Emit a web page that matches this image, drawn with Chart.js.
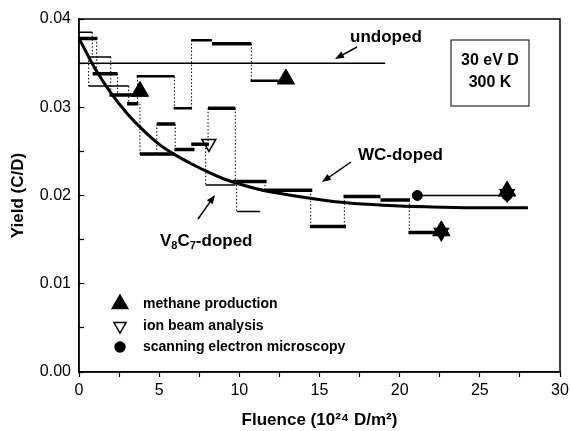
<!DOCTYPE html>
<html>
<head>
<meta charset="utf-8">
<script src="https://cdn.jsdelivr.net/npm/chart.js@4.4.0/dist/chart.umd.min.js"></script>
<style>
  html, body { margin: 0; padding: 0; background: #fff; }
</style>
</head>
<body>
<canvas id="yieldChart" width="571" height="431"></canvas>
<script>
// undoped reference level
var undopedX = [0, 19.1];
var undopedY = [0.0350, 0.0350];

// fitted curve
var fitX = [0, 1, 2, 3, 4, 5, 6, 7, 8, 9, 10, 11, 12, 14, 16, 18, 20, 22, 25, 28];
var fitY = [0.0378, 0.0344, 0.0316, 0.0293, 0.0274, 0.0258, 0.0246, 0.0236, 0.0227, 0.0219,
            0.0213, 0.0208, 0.0204, 0.0198, 0.0193, 0.0190, 0.0188, 0.0187, 0.0186, 0.0186];

// thick step segments
var thickX0 = [0, 0.85, 1.9, 3.0, 8.3, 4.85, 3.8, 5.95, 7.0, 8.05, 9.6, 11.55, 14.4, 16.5, 18.8, 20.55];
var thickX1 = [1.15, 2.4, 3.45, 3.7, 10.75, 6.0, 5.95, 7.2, 8.1, 9.75, 11.7, 14.55, 16.65, 18.8, 20.65, 22.45];
var thickY  = [0.0378, 0.0338, 0.0314, 0.0304, 0.0372, 0.0281, 0.0247, 0.0252, 0.0258, 0.0299,
               0.0216, 0.0206, 0.0165, 0.0199, 0.0195, 0.0158];

// medium step segments
var midX0 = [3.6, 5.9, 7.0, 10.7];
var midX1 = [5.95, 7.05, 8.3, 12.45];
var midY  = [0.0335, 0.0299, 0.0376, 0.0330];

// thin step segments
var thinX0 = [0, 0.55, 0.6, 7.9, 9.85, 21.1];
var thinX1 = [0.83, 2.0, 3.1, 9.75, 11.3, 26.7];
var thinY  = [0.0385, 0.0357, 0.0324, 0.0212, 0.0182, 0.0200];

// dotted connectors
var dotX  = [0.83, 1.1, 0.6, 1.98, 2.4, 3.1, 3.65, 3.8, 4.85, 5.95, 6.0, 7.02, 7.15, 8.05, 7.9, 9.75, 9.83, 10.75, 11.6, 14.45, 16.55, 20.6];
var dotY0 = [0.0385, 0.0378, 0.0357, 0.0357, 0.0338, 0.0324, 0.0335, 0.0304, 0.0281, 0.0335, 0.0281, 0.0299, 0.0252, 0.0299, 0.0258, 0.0299, 0.0216, 0.0372, 0.0216, 0.0206, 0.0199, 0.0195];
var dotY1 = [0.0357, 0.0338, 0.0324, 0.0314, 0.0314, 0.0304, 0.0304, 0.0247, 0.0247, 0.0299, 0.0252, 0.0376, 0.0258, 0.0258, 0.0212, 0.0212, 0.0182, 0.0330, 0.0206, 0.0165, 0.0165, 0.0158];

// markers
var methaneX = [3.8, 12.9, 22.6, 26.7];
var methaneY = [0.0318, 0.0332, 0.0160, 0.0205];
var ionX = [8.1, 22.6, 26.7];
var ionY = [0.0259, 0.0158, 0.0202];
var semX = [21.1, 26.7];
var semY = [0.0200, 0.0200];

var FONT = '"Liberation Sans", Arial, sans-serif';

function pairs(xs, ys) {
    var out = [];
    for (var i = 0; i < xs.length; i++) out.push({x: xs[i], y: ys[i]});
    return out;
}
function steps(x0, x1, y) {
    var out = [];
    for (var i = 0; i < y.length; i++) {
        out.push({x: x0[i], y: y[i]}, {x: x1[i], y: y[i]}, {x: x1[i], y: null});
    }
    return out;
}
function verticals(x, y0, y1) {
    var out = [];
    for (var i = 0; i < x.length; i++) {
        out.push({x: x[i], y: y0[i]}, {x: x[i], y: y1[i]}, {x: x[i], y: null});
    }
    return out;
}
function lineSet(data, width, dash) {
    return {
        data: data, showLine: true, spanGaps: false, pointRadius: 0,
        borderColor: '#000', borderWidth: width, borderDash: dash || [], fill: false
    };
}

function arrow(ctx, x1, y1, x2, y2) {
    var a = Math.atan2(y2 - y1, x2 - x1);
    ctx.beginPath();
    ctx.moveTo(x1, y1);
    ctx.lineTo(x2 - 6 * Math.cos(a), y2 - 6 * Math.sin(a));
    ctx.lineWidth = 1.5;
    ctx.stroke();
    ctx.beginPath();
    ctx.moveTo(x2, y2);
    ctx.lineTo(x2 - 9 * Math.cos(a) + 3.5 * Math.sin(a), y2 - 9 * Math.sin(a) - 3.5 * Math.cos(a));
    ctx.lineTo(x2 - 9 * Math.cos(a) - 3.5 * Math.sin(a), y2 - 9 * Math.sin(a) + 3.5 * Math.cos(a));
    ctx.closePath();
    ctx.fill();
}

var extras = {
    id: 'extras',
    afterDraw: function(chart) {
        var ctx = chart.ctx, a = chart.chartArea;
        ctx.save();
        ctx.strokeStyle = '#000';
        ctx.fillStyle = '#000';
        ctx.lineWidth = 1.5;
        ctx.strokeRect(a.left, a.top, a.right - a.left, a.bottom - a.top);

        // labels and arrows
        ctx.textBaseline = 'middle';
        ctx.textAlign = 'left';
        ctx.font = 'bold 17px ' + FONT;
        ctx.fillText('undoped', 350, 37);
        arrow(ctx, 357, 47, 335, 59);
        ctx.fillText('WC-doped', 358, 155);
        arrow(ctx, 351, 162, 322, 182);

        var x = 160, y = 241;
        ctx.fillText('V', x, y); x += ctx.measureText('V').width;
        ctx.font = 'bold 11px ' + FONT;
        ctx.fillText('8', x, y + 5); x += ctx.measureText('8').width;
        ctx.font = 'bold 17px ' + FONT;
        ctx.fillText('C', x, y); x += ctx.measureText('C').width;
        ctx.font = 'bold 11px ' + FONT;
        ctx.fillText('7', x, y + 5); x += ctx.measureText('7').width;
        ctx.font = 'bold 17px ' + FONT;
        ctx.fillText('-doped', x, y);
        arrow(ctx, 198, 219, 215, 195);

        // condition box
        ctx.lineWidth = 1;
        ctx.strokeRect(451, 40, 78, 66);
        ctx.textAlign = 'center';
        ctx.font = 'bold 16px ' + FONT;
        ctx.fillText('30 eV D', 490, 61);
        ctx.fillText('300 K', 490, 83);

        // legend
        var rows = [
            {y: 304, style: 'triangle', r: 9, rot: 0, fill: '#000', text: 'methane production'},
            {y: 326, style: 'triangle', r: 7, rot: 180, fill: '#fff', text: 'ion beam analysis'},
            {y: 347, style: 'circle', r: 5, rot: 0, fill: '#000', text: 'scanning electron microscopy'}
        ];
        ctx.textAlign = 'left';
        ctx.font = 'bold 14px ' + FONT;
        rows.forEach(function(r) {
            ctx.fillStyle = r.fill;
            ctx.strokeStyle = '#000';
            ctx.lineWidth = 1.5;
            Chart.helpers.drawPoint(ctx, {pointStyle: r.style, radius: r.r, rotation: r.rot, borderWidth: 1.5}, 120, r.y);
            ctx.fillStyle = '#000';
            ctx.fillText(r.text, 143, r.y);
        });
        ctx.restore();
    }
};

new Chart(document.getElementById('yieldChart'), {
    type: 'scatter',
    data: {
        datasets: [
            lineSet(verticals(dotX, dotY0, dotY1), 1, [1.5, 2]),
            lineSet(pairs(undopedX, undopedY), 1.5),
            lineSet(steps(thinX0, thinX1, thinY), 1.5),
            lineSet(steps(midX0, midX1, midY), 2.5),
            lineSet(steps(thickX0, thickX1, thickY), 3.5),
            Object.assign(lineSet(pairs(fitX, fitY), 3), {cubicInterpolationMode: 'monotone'}),
            {
                data: pairs(semX, semY), pointStyle: 'circle', pointRadius: 5,
                backgroundColor: '#000', borderColor: '#000', borderWidth: 1
            },
            {
                data: pairs(methaneX, methaneY), pointStyle: 'triangle', pointRadius: 10,
                backgroundColor: '#000', borderColor: '#000', borderWidth: 1
            },
            {
                data: pairs(ionX, ionY), pointStyle: 'triangle', pointRotation: 180, pointRadius: 8,
                backgroundColor: ['#fff', '#000', '#fff'], borderColor: '#000', borderWidth: 1.5
            }
        ]
    },
    options: {
        responsive: false,
        animation: false,
        devicePixelRatio: 1,
        layout: { padding: { top: 19, right: 10, left: 0, bottom: 0 } },
        plugins: { legend: { display: false }, tooltip: { enabled: false } },
        elements: { line: { tension: 0 } },
        scales: {
            x: {
                type: 'linear', min: 0, max: 30,
                afterFit: function(s) { s.height = 59; s.paddingRight = 10; s.paddingLeft = 0; },
                border: { display: true, color: '#000', width: 1.5 },
                grid: { drawOnChartArea: false, drawTicks: true, tickLength: 5, color: '#000', tickWidth: 1.2 },
                ticks: {
                    stepSize: 2.5, color: '#000', padding: 4, maxRotation: 0,
                    font: { family: FONT, size: 16 },
                    callback: function(v) { return v % 5 === 0 ? String(v) : ''; }
                },
                title: {
                    display: true, text: 'Fluence (10²⁴ D/m²)', color: '#000',
                    font: { family: FONT, size: 17, weight: 'bold' }, padding: { top: 0, bottom: 0 }
                }
            },
            y: {
                type: 'linear', min: 0, max: 0.04,
                afterFit: function(s) { s.width = 79; s.paddingTop = 0; s.paddingBottom = 0; },
                border: { display: true, color: '#000', width: 1.5 },
                grid: { drawOnChartArea: false, drawTicks: true, tickLength: -5, color: '#000', tickWidth: 1.2 },
                ticks: {
                    stepSize: 0.005, color: '#000', padding: 13,
                    font: { family: FONT, size: 16 },
                    callback: function(v) {
                        var k = Math.round(v * 1000);
                        return k % 10 === 0 ? (k / 1000).toFixed(2) : '';
                    }
                },
                title: {
                    display: true, text: 'Yield (C/D)', color: '#000',
                    font: { family: FONT, size: 17, weight: 'bold' }, padding: { top: 8, bottom: 0 }
                }
            }
        }
    },
    plugins: [extras]
});
</script>
</body>
</html>
